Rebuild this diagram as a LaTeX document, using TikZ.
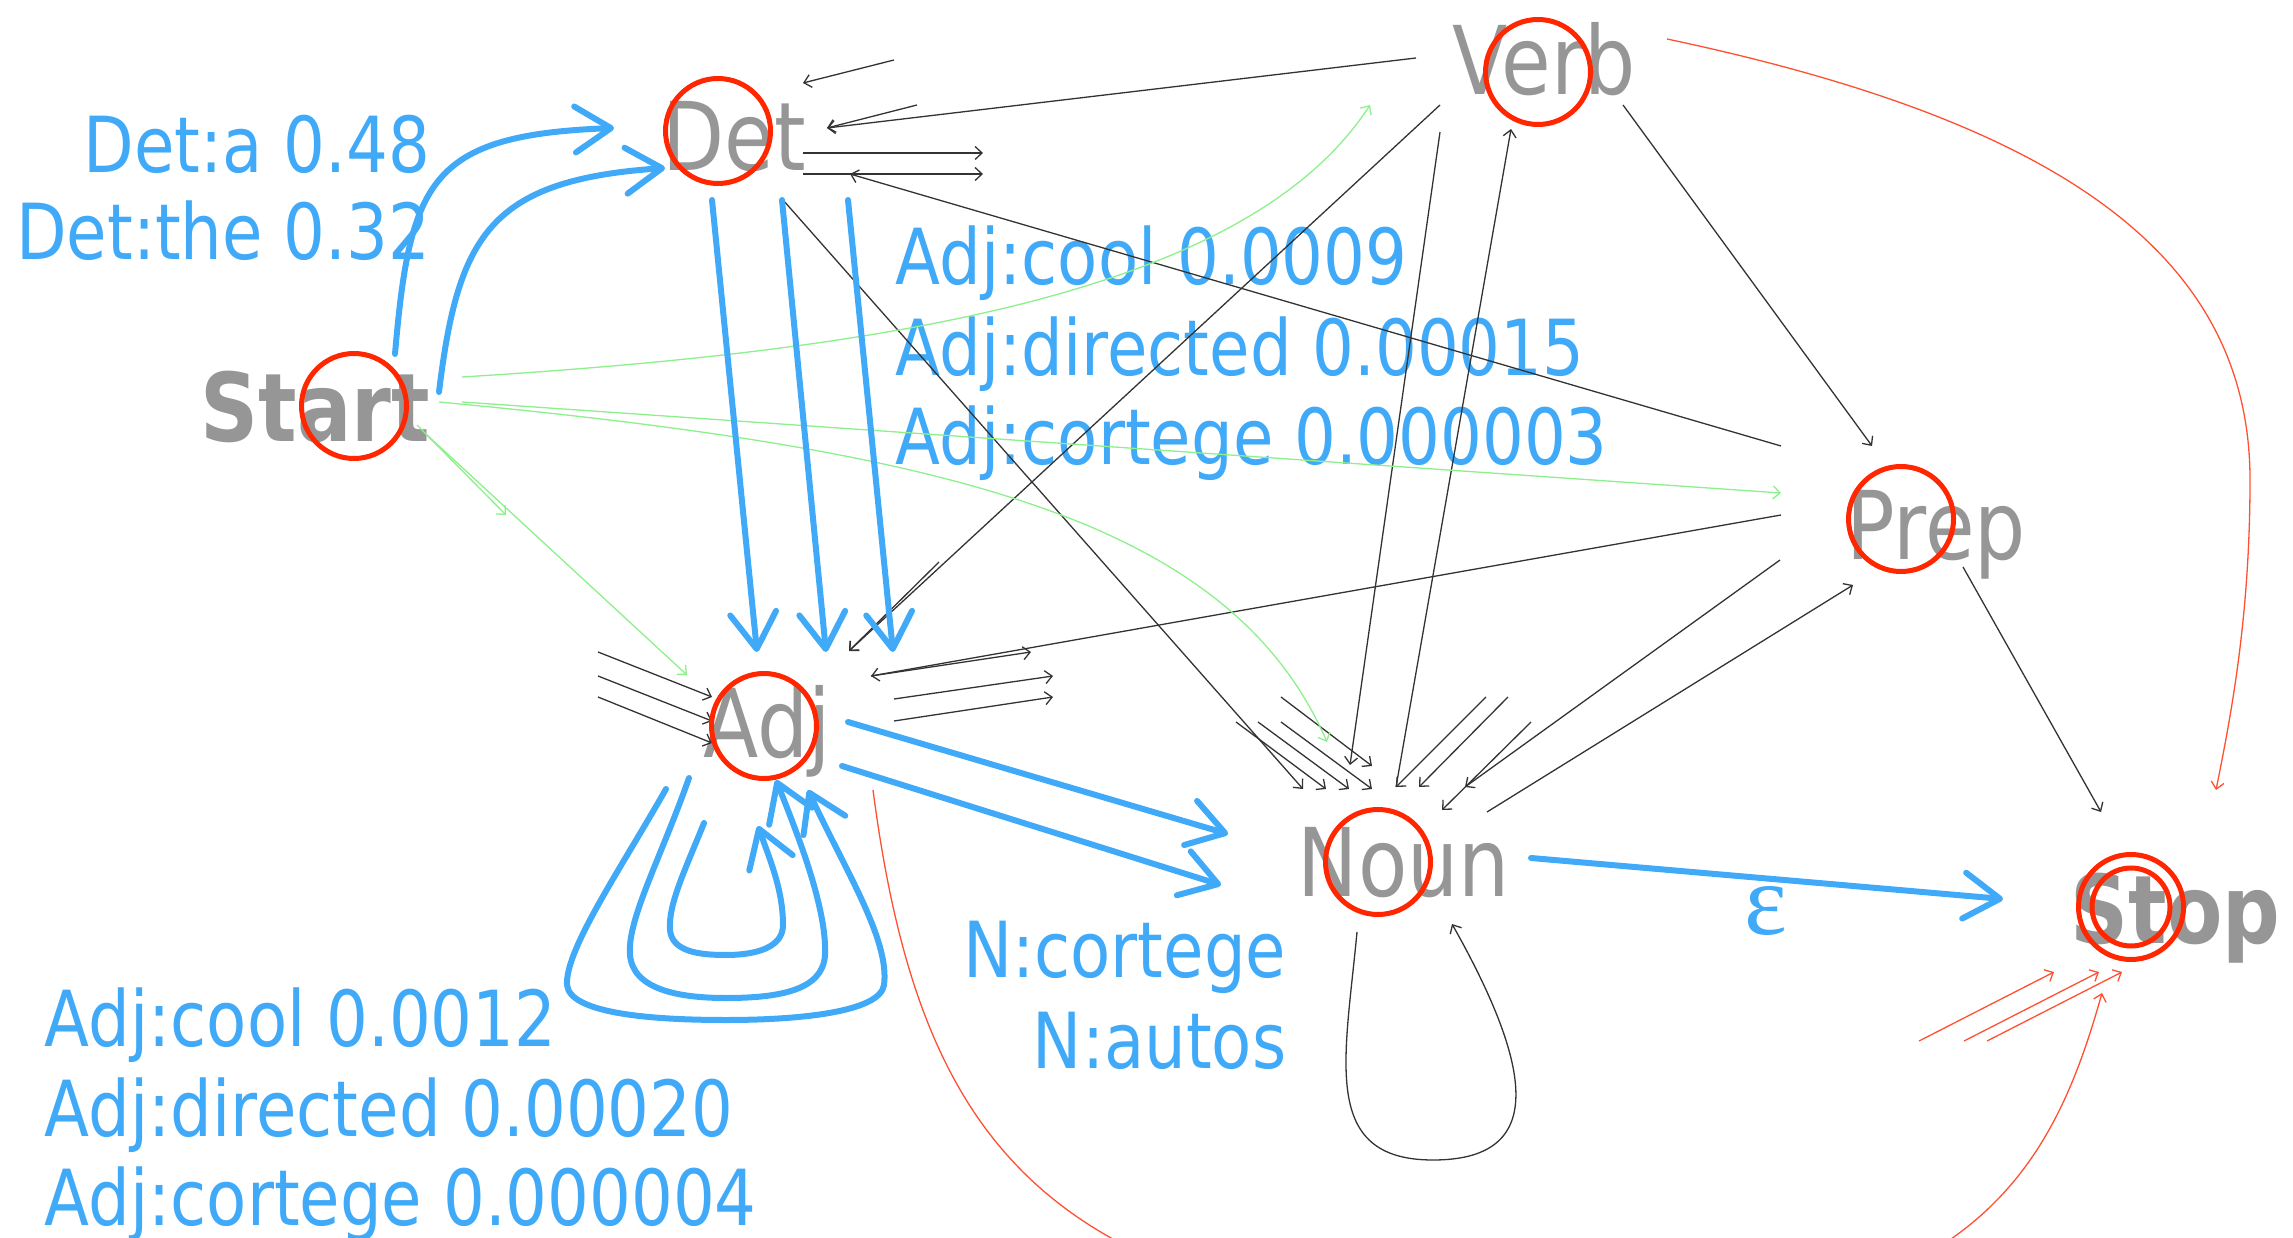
\documentclass[tikz,border=0pt]{standalone}
\usepackage{fontspec}
\setmainfont{DejaVu Sans}
\newfontfamily\lblfont[FakeStretch=0.85]{DejaVu Sans}
\newfontfamily\epsfont{Liberation Serif}
\usetikzlibrary{arrows.meta}
\definecolor{cblue}{RGB}{64,170,248}
\definecolor{cgray}{RGB}{150,150,150}
\definecolor{cred}{RGB}{255,38,0}
\definecolor{cgreen}{RGB}{140,240,140}
\definecolor{cthin}{RGB}{255,80,50}
\begin{document}
\begin{tikzpicture}[x=0.1mm,y=-0.1mm,
  st/.style={font=\lblfont\fontsize{27}{30}\selectfont, text=cgray, inner sep=0, anchor=base west},
  stb/.style={font=\lblfont\bfseries\fontsize{27}{30}\selectfont, text=cgray, inner sep=0, anchor=base west},
  ring/.style={draw=cred, line width=0.5mm, circle, minimum size=10.5mm, inner sep=0},
  lab/.style={font=\lblfont\fontsize{22}{26}\selectfont, text=cblue, inner sep=0},
  big/.style={draw=cblue, line width=0.6mm, line cap=round, line join=round, -{Straight Barb[length=3.6mm,width=4.6mm,round]}},
  thin/.style={draw=black!80, line width=0.13mm, -{Straight Barb[length=0.7mm,width=1.3mm]}},
  gr/.style={thin, draw=cgreen},
  rd/.style={thin, draw=cthin},
]
\useasboundingbox (0,0) rectangle (2293,1238);
\clip (0,0) rectangle (2293,1238);

% ---- state labels
\node[st]  (det)   at (662,171)  {Det};
\node[st]  (verb)  at (1452,95)  {Verb};
\node[stb] (start) at (200,442)  {Start};
\node[st]  (prep)  at (1846,560) {Prep};
\node[st]  (adj)   at (703,758)  {Adj};
\node[st]  (noun)  at (1297,896) {Noun};
\node[stb] (stop)  at (2070,943) {Stop};

% ---- blue labels
\node[lab, anchor=base east] (l1) at (431,173) {Det:a 0.48};
\node[lab, anchor=base east] (l2) at (431,260) {Det:the 0.32};
\node[lab, anchor=base west] (l3) at (895,285) {Adj:cool 0.0009};
\node[lab, anchor=base west] (l4) at (895,376) {Adj:directed 0.00015};
\node[lab, anchor=base west] (l5) at (895,465) {Adj:cortege 0.000003};
\node[lab, anchor=base east] (l6) at (1287,977) {N:cortege};
\node[lab, anchor=base east] (l7) at (1287,1068) {N:autos};
\node[lab, anchor=base west] (l8) at (44,1046) {Adj:cool 0.0012};
\node[lab, anchor=base west] (l9) at (44,1136) {Adj:directed 0.00020};
\node[lab, anchor=base west] (l10) at (44,1225) {Adj:cortege 0.000004};
\node[inner sep=0, text=cblue, font=\epsfont\fontsize{29}{30}\selectfont] (eps) at (1766,911) {ε};

% ---- coordinates for thin connectors
\path (894,60) coordinate (a1s) (803,83) coordinate (a1e)
      (917,105) coordinate (a2s) (827,128) coordinate (a2e)
      (1416,58) coordinate (vd) 
      (803,153) coordinate (d1s) (983,153) coordinate (d1e)
      (803,174) coordinate (d2s) (983,174) coordinate (d2e)
      (1781,446) coordinate (pd) (850,174) coordinate (pde)
      (783,200) coordinate (dn) (1303,789) coordinate (dne)
      (1440,105) coordinate (va) (849,651) coordinate (vae)
      (939,562) coordinate (a3s)
      (1440,132) coordinate (vn) (1350,765) coordinate (vne)
      (1396,787) coordinate (nv) (1511,129) coordinate (nve)
      (1623,105) coordinate (vp) (1872,446) coordinate (vpe)
      (1781,515) coordinate (pa) (871,676) coordinate (pae)
      (1031,652) coordinate (o1e)
      (894,699) coordinate (o2s) (1053,676) coordinate (o2e)
      (894,721) coordinate (o3s) (1053,697) coordinate (o3e)
      (598,652) coordinate (i1s) (712,697) coordinate (i1e)
      (598,676) coordinate (i2s) (712,721) coordinate (i2e)
      (598,697) coordinate (i3s) (712,743) coordinate (i3e)
      (1780,560) coordinate (pn) (1465,787) coordinate (pne)
      (1487,812) coordinate (np) (1853,585) coordinate (npe)
      (1963,567) coordinate (ps) (2101,812) coordinate (pse)
      (1236,722) coordinate (n1s) (1326,789) coordinate (n1e)
      (1258,722) coordinate (n2s) (1349,789) coordinate (n2e)
      (1281,722) coordinate (n3s) (1372,789) coordinate (n3e)
      (1281,697) coordinate (n4s) (1372,766) coordinate (n4e)
      (1486,697) coordinate (n5s)
      (1508,697) coordinate (n6s) (1419,787) coordinate (n6e)
      (1531,722) coordinate (n7s) (1442,810) coordinate (n7e)
      (1357,932) coordinate (nls) (1452,924) coordinate (nle)
      (462,377) coordinate (sv) (1370,105) coordinate (sve)
      (462,402) coordinate (sp) (1781,493) coordinate (spe)
      (439,402) coordinate (sn) (1327,742) coordinate (sne)
      (417,425) coordinate (g1s) (506,515) coordinate (g1e)
      (427,435) coordinate (sa) (687,675) coordinate (sae)
      (1667,39) coordinate (vs) (2216,790) coordinate (vse)
      (873,790) coordinate (as) (2102,993) coordinate (ase)
      (1919,1041) coordinate (r1s) (2054,972) coordinate (r1e)
      (1964,1041) coordinate (r2s) (2099,972) coordinate (r2e)
      (1987,1041) coordinate (r3s) (2122,972) coordinate (r3e);

% ---- thin black connectors
\draw[thin] (a1s) -- (a1e);
\draw[thin] (a2s) -- (a2e);
\draw[thin] (vd) -- (a2e);
\draw[thin] (d1s) -- (d1e);
\draw[thin] (d2s) -- (d2e);
\draw[thin] (pd) -- (pde);
\draw[thin] (dn) -- (dne);
\draw[thin] (va) -- (vae);
\draw[thin] (a3s) -- (vae);
\draw[thin] (vn) -- (vne);
\draw[thin] (nv) -- (nve);
\draw[thin] (vp) -- (vpe);
\draw[thin] (pa) -- (pae);
\draw[thin] (pae) -- (o1e);
\draw[thin] (o2s) -- (o2e);
\draw[thin] (o3s) -- (o3e);
\draw[thin] (i1s) -- (i1e);
\draw[thin] (i2s) -- (i2e);
\draw[thin] (i3s) -- (i3e);
\draw[thin] (pn) -- (pne);
\draw[thin] (np) -- (npe);
\draw[thin] (ps) -- (pse);
\draw[thin] (n1s) -- (n1e);
\draw[thin] (n2s) -- (n2e);
\draw[thin] (n3s) -- (n3e);
\draw[thin] (n4s) -- (n4e);
\draw[thin] (n5s) -- (nv);
\draw[thin] (n6s) -- (n6e);
\draw[thin] (n7s) -- (n7e);
\draw[thin] (nls) .. controls (1345,1060) and (1320,1160) .. (1433,1160)
                  .. controls (1540,1160) and (1540,1080) .. (nle);

% ---- green
\draw[gr] (sv) .. controls (900,350) and (1250,290) .. (sve);
\draw[gr] (sp) -- (spe);
\draw[gr] (sn) .. controls (950,450) and (1230,520) .. (sne);
\draw[gr] (g1s) -- (g1e);
\draw[gr] (sa) -- (sae);

% ---- red thin
\draw[rd] (vs) .. controls (2050,120) and (2250,250) .. (2250,480)
               .. controls (2250,620) and (2230,720) .. (vse);
\draw[rd] (as) .. controls (920,1150) and (1050,1300) .. (1500,1330)
               .. controls (1960,1340) and (2048,1185) .. (ase);
\draw[rd] (r1s) -- (r1e);
\draw[rd] (r2s) -- (r2e);
\draw[rd] (r3s) -- (r3e);

% ---- red rings
\node[ring] (detR)   at (718,131)  {};
\node[ring] (verbR)  at (1538,72)  {};
\node[ring] (startR) at (354,406)  {};
\node[ring] (prepR)  at (1901,519) {};
\node[ring] (adjR)   at (764,726)  {};
\node[ring] (nounR)  at (1378,862) {};
\node[ring] (stopR)  at (2131,907) {};
\node[ring, minimum size=7.8mm] (stopR2) at (2131,907) {};

% ---- blue thick arrows
\path (395,354) coordinate (b1s) (614,128) coordinate (b1e)
      (439,392) coordinate (b2s) (665,168) coordinate (b2e)
      (712,200) coordinate (c1s) (757,652) coordinate (c1e)
      (782,200) coordinate (c2s) (826,652) coordinate (c2e)
      (848,200) coordinate (c3s) (893,652) coordinate (c3e)
      (848,722) coordinate (e1s) (1228,834) coordinate (e1e)
      (842,766) coordinate (e2s) (1221,885) coordinate (e2e)
      (1531,858) coordinate (fs) (2003,899) coordinate (fe)
      (704,823) coordinate (L1s) (758,826) coordinate (L1e)
      (689,778) coordinate (L2s) (776,780) coordinate (L2e)
      (666,789) coordinate (L3s) (808,790) coordinate (L3e);
\draw[big] (b1s) .. controls (410,180) and (430,135) .. (b1e);
\draw[big] (b2s) .. controls (458,235) and (490,180) .. (b2e);
\draw[big] (c1s) -- (c1e);
\draw[big] (c2s) -- (c2e);
\draw[big] (c3s) -- (c3e);
\draw[big] (e1s) -- (e1e);
\draw[big] (e2s) -- (e2e);
\draw[big] (fs) -- (fe);
\draw[big] (L1s) .. controls (685,870) and (668,905) .. (670,930)
                 .. controls (672,952) and (700,955) .. (726,955)
                 .. controls (755,955) and (783,948) .. (783,925)
                 .. controls (783,890) and (770,860) .. (L1e);
\draw[big] (L2s) .. controls (660,860) and (627,920) .. (630,955)
                 .. controls (633,990) and (680,998) .. (726,998)
                 .. controls (780,998) and (823,990) .. (825,955)
                 .. controls (827,910) and (800,840) .. (L2e);
\draw[big] (L3s) .. controls (620,870) and (565,950) .. (567,985)
                 .. controls (570,1015) and (660,1020) .. (726,1020)
                 .. controls (800,1020) and (880,1012) .. (884,985)
                 .. controls (890,940) and (845,870) .. (L3e);
\end{tikzpicture}
\end{document}
